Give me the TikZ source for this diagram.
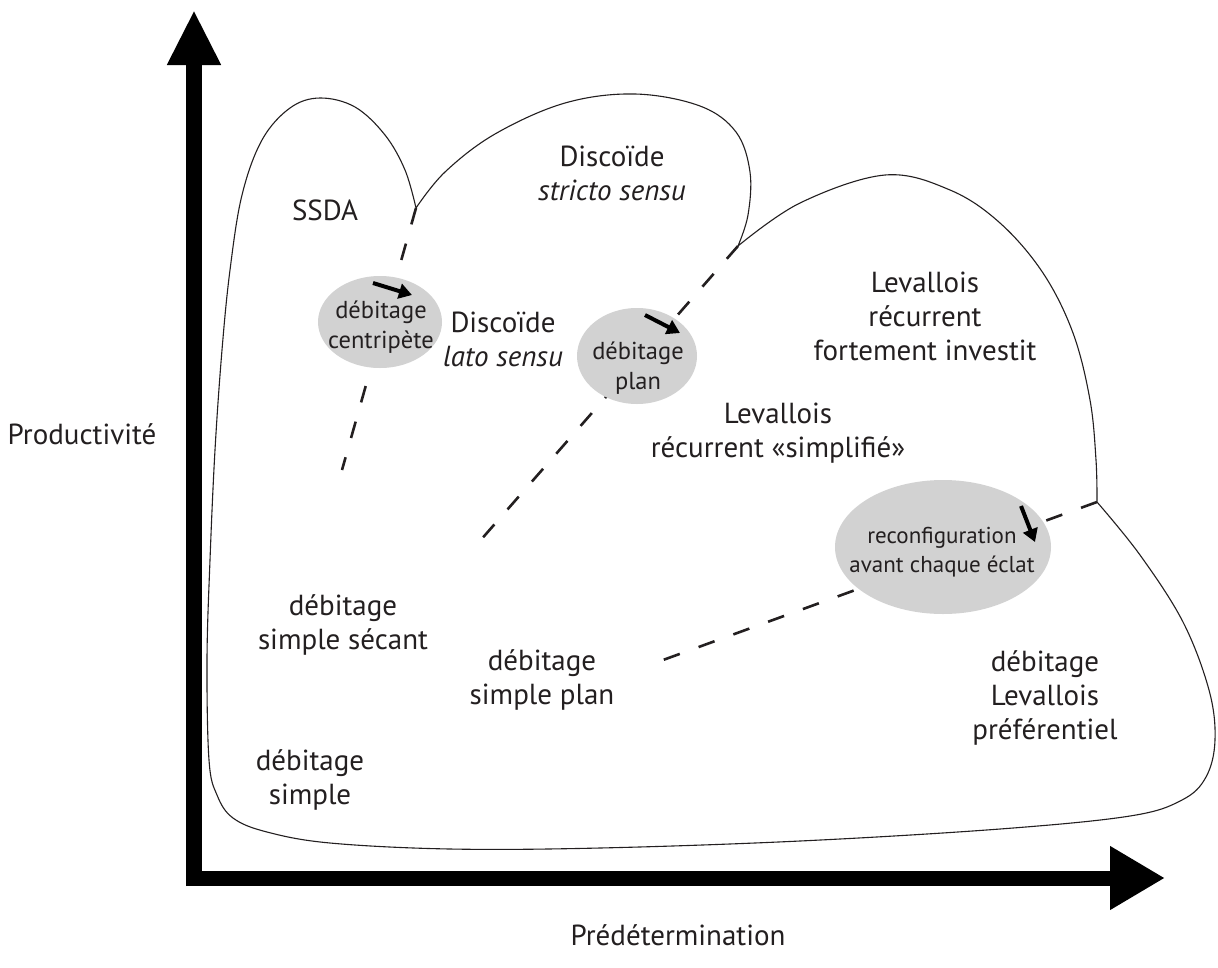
\documentclass[tikz,border=0pt]{standalone}
\usepackage{fontspec}
\setmainfont{PT Sans}
\usetikzlibrary{arrows.meta,shapes.geometric}
\definecolor{ellgray}{RGB}{210,210,210}
\definecolor{ink}{RGB}{35,31,32}
\begin{document}
\begin{tikzpicture}[x=1pt,y=-1pt,
  lbl/.style={align=center, font=\fontsize{29}{34}\selectfont, text=ink, inner sep=0pt},
  elbl/.style={align=center, font=\fontsize{23}{29}\selectfont, text=ink, inner sep=0pt},
  elblbig/.style={align=center, font=\fontsize{24.5}{30}\selectfont, text=ink, inner sep=0pt},
  outline/.style={line width=1.1pt, ink},
  dashline/.style={line width=2.6pt, ink, dash pattern=on 17pt off 20pt},
  ellnode/.style={ellipse, fill=ellgray, draw=none, inner sep=0pt},
  axis/.style={line width=16pt, black},
  smallarrow/.style={line width=4pt, black, -{Triangle[length=13pt,width=15pt]}}]
\fill[white] (0,0) rectangle (1218,967);
\useasboundingbox (0,0) rectangle (1218,967);

% key points
\coordinate (O) at (194,878);
\coordinate (ytip) at (194,10);
\coordinate (xtip) at (1165,878);
\coordinate (ybase) at (194,886);
\coordinate (xbase) at (186,878);
\coordinate (c1) at (416,208);
\coordinate (c2) at (738,246);
\coordinate (J) at (1097,502);
\coordinate (d1) at (342,470);
\coordinate (d2) at (472,550);
\coordinate (d3) at (663,660);

% axes
\draw[axis, -{Triangle[length=55pt,width=50pt]}] (ybase) -- (ytip);
\draw[axis, line width=15pt, -{Triangle[length=55pt,width=60pt]}] (xbase) -- (xtip);

% outline
\draw[outline] plot[smooth, tension=0.6] coordinates {(416,208) (445,172) (495,134) (565,103) (635,94) (700,106) (736,132) (750,172) (748,215) (738,246)}
 -- plot[smooth, tension=0.6] coordinates {(738,246) (800,203) (885,175) (950,190) (1000,223) (1043,273) (1073,333) (1090,400) (1096,460) (1097,502)}
 -- plot[smooth, tension=0.6] coordinates {(1097,502) (1140,555) (1183,622) (1209,690) (1215,740) (1206,777) (1182,800) (1130,816) (1000,829) (800,841) (600,848) (450,849) (330,843) (267,832) (233,818) (217,795) (209,760) (207,660) (210,560) (215,450) (222,350) (230,270) (242,195) (262,140) (290,108) (320,98) (355,107) (385,135) (405,170) (416,208)};

% dashed separations
\draw[dashline] (c1) -- (d1);
\draw[dashline] (c2) -- (d2);
\draw[dashline] (J) -- (d3);

% ellipses
\node[ellnode, minimum width=124pt, minimum height=92pt] (e1) at (380,322) {};
\node[ellnode, minimum width=120pt, minimum height=96pt] (e2) at (637,356) {};
\node[ellnode, minimum width=216pt, minimum height=134pt] (e3) at (943,547) {};
\node[elblbig] (e1t) at (381,327) {débitage\\centripète};
\node[elblbig] (e2t) at (638,368) {débitage\\plan};
\node[elbl] (e3t) at (942,552) {reconfiguration\\avant chaque éclat};

\coordinate (a1s) at (373,283); \coordinate (a1e) at (412,295);
\coordinate (a2s) at (645,315); \coordinate (a2e) at (680,333);
\coordinate (a3s) at (1021,506); \coordinate (a3e) at (1035,542);
\draw[smallarrow] (a1s) -- (a1e);
\draw[smallarrow] (a2s) -- (a2e);
\draw[smallarrow] (a3s) -- (a3e);

% labels
\node[lbl] (ssda) at (325,210) {SSDA};
\node[lbl] (dss) at (612,173) {Discoïde\\\textit{stricto sensu}};
\node[lbl] (dls) at (503,339) {Discoïde\\\textit{lato sensu}};
\node[lbl] (lrf) at (925,316) {Levallois\\récurrent\\fortement investit};
\node[lbl] (lrs) at (778,433) {Levallois\\récurrent «simplifié»};
\node[lbl] (dlp) at (1045,698) {débitage\\Levallois\\préférentiel};
\node[lbl] (dss2) at (343,625) {débitage\\simple sécant};
\node[lbl] (dsp) at (542,680) {débitage\\simple plan};
\node[lbl] (ds) at (310,780) {débitage\\simple};
\node[lbl] (ylab) at (82,434) {Productivité};
\node[lbl] (xlab) at (678,935) {Prédétermination};
\end{tikzpicture}
\end{document}
